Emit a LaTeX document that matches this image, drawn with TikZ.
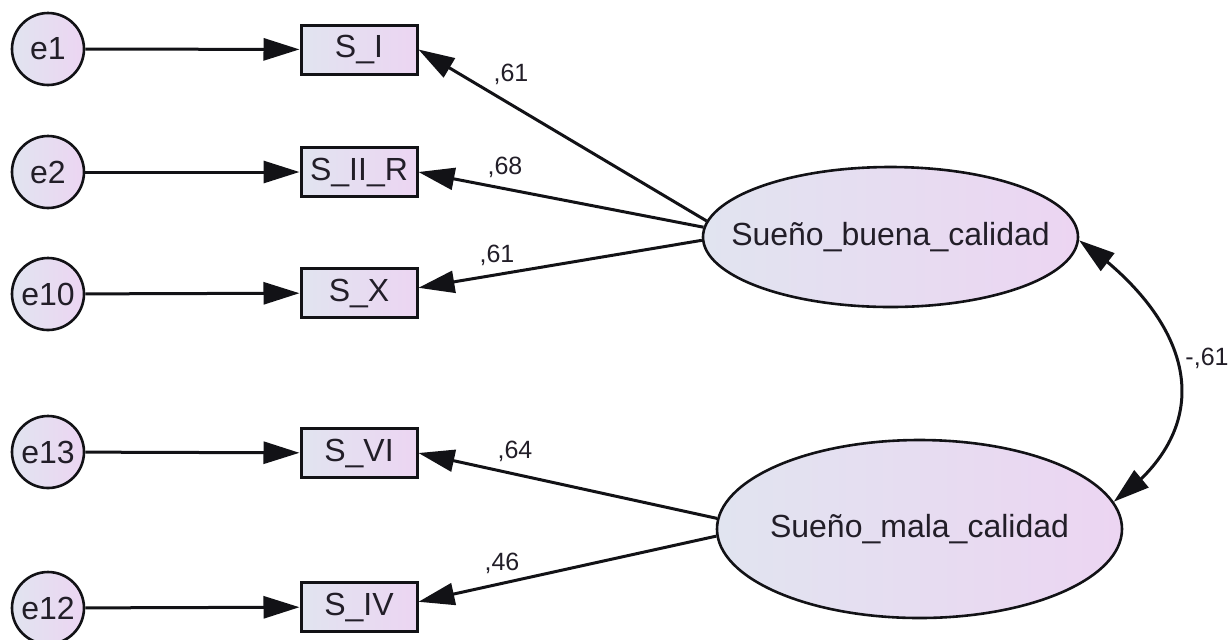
\documentclass[tikz,border=0pt]{standalone}
\usepackage{fontspec}
\setmainfont{Liberation Sans}
\usetikzlibrary{shapes.geometric,arrows.meta,bending}
\definecolor{fillL}{RGB}{225,228,240}
\definecolor{fillR}{RGB}{236,213,242}
\definecolor{ink}{RGB}{18,18,22}
\definecolor{txt}{RGB}{34,30,40}
\begin{document}
\begin{tikzpicture}[x=0.5pt,y=-0.5pt,
  gradfill/.style={left color=fillL,right color=fillR},
  errnode/.style={circle,draw=ink,line width=1.3pt,gradfill,minimum size=36pt,
    inner sep=0pt,text=txt,font=\fontsize{16}{18}\selectfont},
  obsnode/.style={rectangle,draw=ink,line width=1.5pt,gradfill,minimum width=58pt,
    minimum height=24.5pt,inner sep=0pt,text=txt,font=\fontsize{16}{18}\selectfont},
  latnode/.style={ellipse,draw=ink,line width=1.3pt,gradfill,inner sep=0pt,
    label={[text=txt,font=\fontsize{16}{18}\selectfont]center:#1}},
  tip/.tip={Triangle[length=18pt,width=11pt]},
  conn/.style={draw=ink,line width=1.5pt,-tip},
  corr/.style={draw=ink,line width=1.5pt,tip-tip},
  coef/.style={text=txt,inner sep=0pt,font=\fontsize{12.5}{14}\selectfont}
]
\useasboundingbox (0,0) rectangle (1231,639);

% error terms
\node[errnode] (e1)  at (48,49)  {e1};
\node[errnode] (e2)  at (48,172) {e2};
\node[errnode] (e10) at (48,294) {e10};
\node[errnode] (e13) at (48,452) {e13};
\node[errnode] (e12) at (48,608) {e12};

% observed indicators
\node[obsnode] (SI)   at (359,49.5) {S\_I};
\node[obsnode] (SIIR) at (359,172)  {S\_II\_R};
\node[obsnode] (SX)   at (359,293)  {S\_X};
\node[obsnode] (SVI)  at (359,453)  {S\_VI};
\node[obsnode] (SIV)  at (359,607)  {S\_IV};

% latent factors (names set as centred labels so the outline keeps its size)
\node[latnode={Sueño\_buena\_calidad},minimum width=187.5pt,minimum height=70pt] (buena) at (890.5,237) {};
\node[latnode={Sueño\_mala\_calidad},minimum width=202.5pt,minimum height=89pt] (mala) at (919.5,529) {};

% error paths
\draw[conn] (e1)  -- (SI);
\draw[conn] (e2)  -- (SIIR);
\draw[conn] (e10) -- (SX);
\draw[conn] (e13) -- (SVI);
\draw[conn] (e12) -- (SIV);

% factor loadings
\draw[conn] (buena.175.4) -- (SI.east);
\draw[conn] (buena.177.9) -- (SIIR.east);
\draw[conn] (buena.181.2) -- (SX.5);
\draw[conn] (mala.177.2) -- (SVI.east);
\draw[conn] (mala.182.3) -- (SIV.5);

\node[coef] (l1) at (511,74)  {,61};
\node[coef] (l2) at (505,167) {,68};
\node[coef] (l3) at (497,255) {,61};
\node[coef] (l4) at (515,451) {,64};
\node[coef] (l5) at (502,563) {,46};

% factor covariance
\draw[corr] (buena.-1) .. controls +(112,78) and +(111,-79) .. (mala.8);
\node[coef] (lc) at (1207,358) {-,61};
\end{tikzpicture}
\end{document}
